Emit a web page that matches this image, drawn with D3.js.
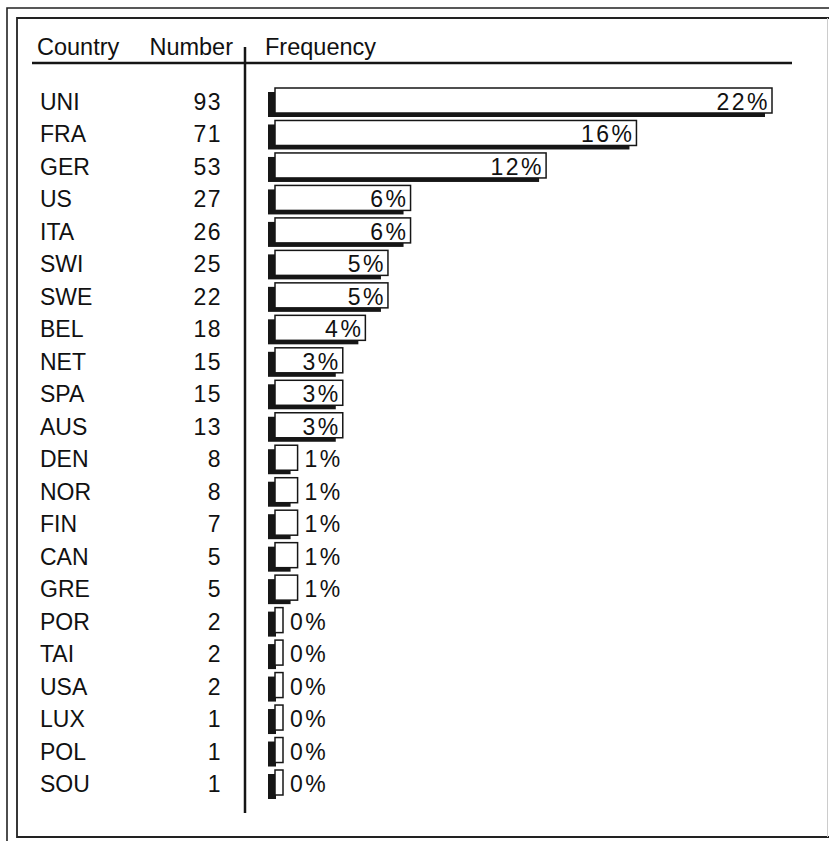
<!DOCTYPE html>
<html>
<head>
<meta charset="utf-8">
<script src="https://cdn.jsdelivr.net/npm/d3@7"></script>
<style>
  html, body { margin: 0; padding: 0; background: #fff; }
  svg { display: block; }
  text { font-family: "Liberation Sans", Arial, Helvetica, sans-serif; fill: #111; }
</style>
</head>
<body>
<svg id="chart" width="829" height="841"></svg>
<script>
// ---- data ----
const countries = ["UNI","FRA","GER","US","ITA","SWI","SWE","BEL","NET","SPA","AUS","DEN","NOR","FIN","CAN","GRE","POR","TAI","USA","LUX","POL","SOU"];
const numbers   = [93,71,53,27,26,25,22,18,15,15,13,8,8,7,5,5,2,2,2,1,1,1];
const percents  = [22,16,12,6,6,5,5,4,3,3,3,1,1,1,1,1,0,0,0,0,0,0];
const headers   = ["Country","Number","Frequency"];

const rows = countries.map((c, i) => ({ country: c, number: numbers[i], pct: percents[i] }));

const svg = d3.select("#chart");

// ---- frame ----
const frame = svg.append("g").attr("stroke", "#222").attr("fill", "none");
frame.append("path").attr("d", "M7,841 V8 H829").attr("stroke-width", 1.6);
frame.append("path").attr("d", "M829,18 H17 V837 H829").attr("stroke-width", 1.8);
frame.append("line").attr("x1", 827.5).attr("x2", 827.5).attr("y1", 18).attr("y2", 837)
  .attr("stroke", "#ccc").attr("stroke-width", 1);

// ---- scales ----
const y = d3.scalePoint().domain(countries).range([101, 783]);
const barX0 = 275;
const x = d3.scaleLinear().domain([0, 22]).range([0, 497]);
const minW = 8;
const boxH = 25;
const shadowDX = -7, shadowDY = 4;

// ---- header ----
const hdr = svg.append("g").attr("font-size", 23.5);
hdr.append("text").attr("x", 37).attr("y", 55).text(headers[0]);
hdr.append("text").attr("x", 233).attr("y", 55).attr("text-anchor", "end").text(headers[1]);
hdr.append("text").attr("x", 265).attr("y", 55).text(headers[2]);

svg.append("line").attr("x1", 32).attr("x2", 792).attr("y1", 63).attr("y2", 63)
  .attr("stroke", "#151515").attr("stroke-width", 2.5);
svg.append("line").attr("x1", 245).attr("x2", 245).attr("y1", 47).attr("y2", 813)
  .attr("stroke", "#151515").attr("stroke-width", 2.5);

// ---- rows ----
const g = svg.append("g");
const row = g.selectAll("g.row").data(rows).join("g").attr("class", "row");

row.append("text")
  .attr("x", 40).attr("y", d => y(d.country) + 1)
  .attr("dominant-baseline", "central")
  .attr("font-size", 23)
  .text(d => d.country);

row.append("text")
  .attr("x", 222).attr("y", d => y(d.country) + 1)
  .attr("dominant-baseline", "central")
  .attr("text-anchor", "end")
  .attr("font-size", 23)
  .attr("letter-spacing", 1.5)
  .text(d => d.number);

const w = d => Math.max(minW, x(d.pct));

// shadow
row.append("rect")
  .attr("x", barX0 + shadowDX)
  .attr("y", d => y(d.country) - 13 + shadowDY)
  .attr("width", d => w(d))
  .attr("height", boxH)
  .attr("fill", "#161616");

// white box
row.append("rect")
  .attr("x", barX0)
  .attr("y", d => y(d.country) - 13)
  .attr("width", d => w(d))
  .attr("height", boxH)
  .attr("fill", "#fff")
  .attr("stroke", "#161616")
  .attr("stroke-width", 1.5);

// labels
row.append("text")
  .attr("y", d => y(d.country) + 1)
  .attr("dominant-baseline", "central")
  .attr("font-size", 23)
  .attr("letter-spacing", 2.5)
  .each(function(d) {
    const inside = w(d) > 45;
    d3.select(this)
      .attr("x", inside ? barX0 + w(d) - 2 : barX0 + w(d) + 7)
      .attr("text-anchor", inside ? "end" : "start")
      .text(d.pct + "%");
  });
</script>
</body>
</html>
